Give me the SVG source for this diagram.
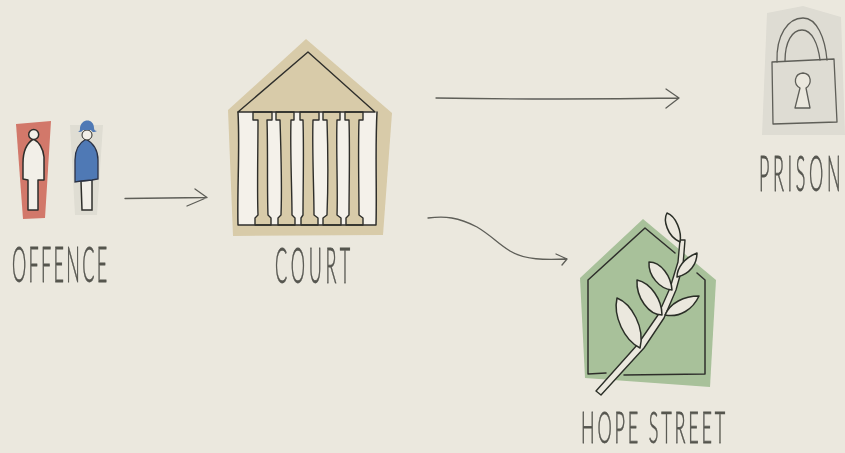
<svg xmlns="http://www.w3.org/2000/svg" width="845" height="453" viewBox="0 0 845 453">
<defs><filter id="blur" x="-5%" y="-5%" width="110%" height="110%"><feGaussianBlur stdDeviation=".4"/></filter></defs>
<style>
.ink{fill:none;stroke:#2f2f2c;stroke-width:1.5;stroke-linejoin:round;stroke-linecap:round}
.col{fill:#d8cba9;stroke:#2f2f2c;stroke-width:1.4;stroke-linejoin:round}
.soft{fill:none;stroke:#5e5e58;stroke-width:1.3;stroke-linejoin:round;stroke-linecap:round}
.leaf{fill:#ebe8de;stroke:#2b2f28;stroke-width:1.5;stroke-linejoin:round}
.label{font-family:"Lato","Liberation Sans",sans-serif;font-weight:300;font-size:50px;fill:#55554f;stroke:#55554f;stroke-width:.8}
.node{filter:url(#blur)}
</style>
<rect width="845" height="453" fill="#ebe8de"/>
<g id="connectors" class="soft node">
<path d="M125 198.500Q165 198 207 197.500M195 189L207 197.500L187 206"/>
<path d="M436 98Q560 100 679 98M666 89L679 98L666 108"/>
<path d="M428 218C445 216 458 217 477 227C492 236 497 243 510 251C525 260 545 260 567 259M556 254L567 259L562 265"/>
</g>
<g id="offence" class="node">
<path d="M16 124L51 121L45 218L23 219Z" fill="#d2786a"/>
<path d="M70 125H103L97 215H75Z" fill="#dfddd3"/>
<path d="M33.500 139C27 143 23 152 23 163V179L28 180V210H38V180L44 180V157C43 148 39 142 33.500 139Z" fill="#f2efe8" stroke="#2f2f2c" stroke-width="1.500" stroke-linejoin="round"/>
<circle cx="33.700" cy="134.500" r="5" fill="#f2efe8" stroke="#2f2f2c" stroke-width="1.500"/>
<path d="M81 181L82 210H92L92 180Z" fill="#f2efe8" stroke="#2f2f2c" stroke-width="1.500"/>
<path d="M86 139C79 143 75 150 75 160V182L81 181L92 180L98 179V160C98 150 93 143 86 139Z" fill="#4f79b5" stroke="#2b3245" stroke-width="1.300"/>
<circle cx="87" cy="135" r="5" fill="#f2efe8" stroke="#2f2f2c" stroke-width="1"/>
<path d="M78 132C80 131 80 130 80 128C81 118 94 118 94 128C94 130 95 131 97 131C94 133 92 132 91 130H83C82 132 80 132 78 132Z" fill="#4f79b5"/>
<text class="label" transform="translate(12 282) scale(.36 1)" letter-spacing="6.500">OFFENCE</text>
</g>
<g id="court" class="node">
<path d="M306 39L392 113L383 235L233 236L228 110Z" fill="#d8cba9"/>
<path d="M238 112H377L376 225H238Z" fill="#f4f1ea"/>
<path class="col" d="M253 112V120H258C258 150 257 190 258 215L255 218V225H271V218L268 215C267 190 268 150 267 120H272V112Z"/>
<path class="col" d="M276 112V120H280C281 150 282 190 281 215L278 218V225H295V218L292 215C292 190 290 150 291 120H294V112Z"/>
<path class="col" d="M300 112V120H303C304 150 303 190 303 215L301 218V225H318V218L314 215C314 190 312 150 313 120H319V112Z"/>
<path class="col" d="M323 112V120H327C328 150 328 190 327 215L323 218V225H341V218L337 215C338 190 336 150 337 120H340V112Z"/>
<path class="col" d="M345 112V120H349C350 150 349 190 349 215L346 218V225H363V218L359 215C359 190 358 150 359 120H363V112Z"/>
<g class="ink">
<path d="M308 52L375 112H238Z" stroke-width="1.400"/>
<path d="M238 112C240 150 237 190 238 225H376C377 190 375 150 377 112"/>
</g>
<text class="label" transform="translate(275 283) scale(.36 1)" letter-spacing="10.400">COURT</text>
</g>
<g id="prison" class="node">
<path d="M767 13L803 6L841 17L845 135H762Z" fill="#dedcd3"/>
<g class="soft">
<path d="M772 62L834 59L837 122L773 124Z"/>
<path d="M777 62C776 35 788 18 803 18C817 18 825 38 827 60"/>
<path d="M785 61C785 42 792 30 802 30C812 30 818 44 820 60"/>
<path d="M800 88C793 84 794 74 803 73C812 74 812 84 806 88L810 108L795 108Z" fill="#ebe8de"/>
</g>
<text class="label" transform="translate(759 191) scale(.36 1)" letter-spacing="10">PRISON</text>
</g>
<g id="hope-street" class="node">
<path d="M643 219L716 280L710 387L585 378L580 278Z" fill="#a8c19a"/>
<g class="ink">
<path d="M606 373L588 374L588 280L645 228L675 253M697 273L705 280L705 374L624 375"/>
</g>
<path d="M596 391L601 395L644 348L664 318L676 290L683 265L685 240L680 240L678 262L670 288L658 315L638 344Z" fill="#ebe8de" stroke="#2b2f28" stroke-width="1.400" stroke-linejoin="round"/>
<path class="leaf" d="M667 213C663 220 667 236 680 242C682 232 676 216 667 213Z"/>
<path class="leaf" d="M677 277C677 268 684 258 697 253C697 264 690 274 677 277Z"/>
<path class="leaf" d="M672 290C660 289 648 276 649 262C661 262 671 276 672 290Z"/>
<path class="leaf" d="M662 315C649 315 636 298 637 280C651 283 662 300 662 315Z"/>
<path class="leaf" d="M665 315C670 303 684 296 699 296C693 309 680 318 665 315Z"/>
<path class="leaf" d="M640 348C624 340 613 316 617 298C632 304 645 328 640 348Z"/>
<text class="label" style="font-size:44px" transform="translate(581 443) scale(.41 1)" letter-spacing="6.850">HOPE STREET</text>
</g>
</svg>
